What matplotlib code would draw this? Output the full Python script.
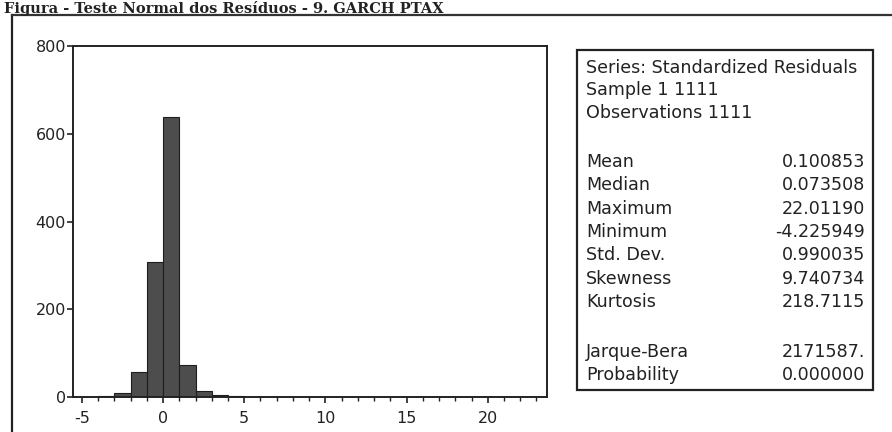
import matplotlib
matplotlib.use("Agg")
import matplotlib.pyplot as plt
from matplotlib.lines import Line2D
from matplotlib.patches import Rectangle
from matplotlib.ticker import MultipleLocator

plt.rcParams["axes.unicode_minus"] = False

# ---- data ----
bin_left_edges = [-5, -4, -3, -2, -1, 0, 1, 2, 3, 4, 5, 6, 22]
bin_counts = [1, 3, 9, 56, 307, 638, 74, 14, 4, 2, 1, 1, 1]
bin_width = 1.0

y_ticks = [0, 200, 400, 600, 800]
x_ticks = [-5, 0, 5, 10, 15, 20]

title_text = "Figura - Teste Normal dos Resíduos - 9. GARCH PTAX"

stat_header = ["Series: Standardized Residuals", "Sample 1 1111", "Observations 1111"]
stat_names = ["Mean", "Median", "Maximum", "Minimum", "Std. Dev.", "Skewness", "Kurtosis"]
stat_values = ["0.100853", "0.073508", "22.01190", "-4.225949", "0.990035", "9.740734", "218.7115"]
test_names = ["Jarque-Bera", "Probability"]
test_values = ["2171587.", "0.000000"]

# ---- figure ----
W, H = 892, 432
fig = plt.figure(figsize=(W / 100, H / 100), dpi=100)
fig.patch.set_facecolor("white")

def fx(px):
    return px / W

def fy(py):
    return 1 - py / H

ink = "#222222"
sans = ["DejaVu Sans"]

# title
fig.text(fx(4), fy(0.5), title_text, fontsize=10.5, fontweight="bold",
         family=["DejaVu Serif"], va="top", ha="left", color=ink)

# outer frame (left + top edges)
fig.add_artist(Line2D([fx(12), fx(12)], [fy(15), fy(440)], color=ink, lw=1.6))
fig.add_artist(Line2D([fx(12), fx(892)], [fy(15), fy(15)], color="#333333", lw=1.6))

# histogram axes
ax_l, ax_t, ax_r, ax_b = 73, 46, 547, 397
ax = fig.add_axes([fx(ax_l), fy(ax_b), fx(ax_r - ax_l), (ax_b - ax_t) / H])
ax.bar(bin_left_edges, bin_counts, width=bin_width, align="edge",
       facecolor="#4d4d4d", edgecolor="#1e1e1e", linewidth=0.8)
ax.set_xlim(-5.55, 23.65)
ax.set_ylim(0, 800)
ax.set_xticks(x_ticks)
ax.set_yticks(y_ticks)
ax.xaxis.set_minor_locator(MultipleLocator(1))
ax.tick_params(axis="both", which="major", direction="out", length=4, width=1.2,
               labelsize=11.5, colors=ink)
ax.tick_params(axis="x", which="major", pad=6)
ax.tick_params(axis="y", which="major", pad=1)
ax.tick_params(axis="x", which="minor", direction="out", length=3, width=1.0, colors=ink)
for lab in ax.get_xticklabels() + ax.get_yticklabels():
    lab.set_family(sans)
for s in ax.spines.values():
    s.set_linewidth(1.4)
    s.set_color(ink)

# statistics box
box_l, box_t, box_r, box_b = 577, 50, 873, 390
fig.add_artist(Rectangle((fx(box_l), fy(box_b)), fx(box_r - box_l), (box_b - box_t) / H,
                         transform=fig.transFigure, fill=False, edgecolor=ink, lw=1.6))

tx_l, tx_r = 586, 865
fs = 12.6
header_y = [68, 90, 113]
for yy, s in zip(header_y, stat_header):
    fig.text(fx(tx_l), fy(yy), s, fontsize=fs, family=sans, va="center", ha="left", color=ink)
ys = 162
for name, val in zip(stat_names, stat_values):
    fig.text(fx(tx_l), fy(ys), name, fontsize=fs, family=sans, va="center", ha="left", color=ink)
    fig.text(fx(tx_r), fy(ys), val, fontsize=fs, family=sans, va="center", ha="right", color=ink)
    ys += 23.3
ys = 352
for name, val in zip(test_names, test_values):
    fig.text(fx(tx_l), fy(ys), name, fontsize=fs, family=sans, va="center", ha="left", color=ink)
    fig.text(fx(tx_r), fy(ys), val, fontsize=fs, family=sans, va="center", ha="right", color=ink)
    ys += 23

fig.savefig("out.png", dpi=100)
